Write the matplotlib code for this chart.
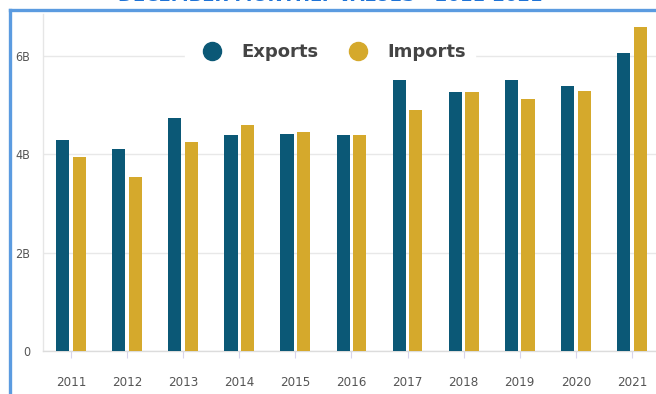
import numpy as np
import matplotlib.pyplot as plt
from matplotlib.lines import Line2D

years = ['2011', '2012', '2013', '2014', '2015', '2016',
         '2017', '2018', '2019', '2020', '2021']
exports = [4.28, 4.10, 4.73, 4.39, 4.41, 4.39, 5.50, 5.26, 5.50, 5.38, 6.05]
imports = [3.95, 3.54, 4.25, 4.60, 4.45, 4.39, 4.89, 5.26, 5.12, 5.29, 6.58]
yticks = [0, 2, 4, 6]
ytick_labels = ['0', '2B', '4B', '6B']

EXP_COLOR = '#0b5876'
IMP_COLOR = '#d5a92c'
FRAME_BLUE = '#5b9be0'

W, H = 656, 394
fig = plt.figure(figsize=(W / 100, H / 100), dpi=100)

# axes placed in pixel terms of the figure
left, right, bottom, top = 43, 656, 351, 14
ax = fig.add_axes([left / W, (H - bottom) / H, (right - left) / W, (bottom - top) / H])

x = np.arange(len(years))
bw = 0.235
off = 0.148
ax.bar(x - off, exports, width=bw, color=EXP_COLOR, zorder=3)
ax.bar(x + off, imports, width=bw, color=IMP_COLOR, zorder=3)

ax.set_xlim(-0.5, 10.43)
ax.set_ylim(0, 6.85)

ax.set_yticks(yticks)
ax.set_yticklabels(ytick_labels, fontsize=9, fontstretch='condensed', color='#555555')
ax.set_xticks(x)
ax.set_xticklabels(years, fontsize=9.5, fontstretch='condensed', color='#555555')

ax.tick_params(axis='y', length=0, pad=9)
ax.tick_params(axis='x', length=5, width=0.8, color='#d8d4ec', pad=13)

ax.grid(axis='y', color='#e8e8e8', linewidth=1, zorder=0)
for side in ['top', 'right']:
    ax.spines[side].set_visible(False)
ax.spines['left'].set_color('#e6e6e6')
ax.spines['bottom'].set_color('#dcdcdc')
ax.spines['left'].set_linewidth(1)
ax.spines['bottom'].set_linewidth(1)

# legend with round markers and bold labels
handles = [
    Line2D([], [], marker='o', linestyle='', markersize=13, color=EXP_COLOR),
    Line2D([], [], marker='o', linestyle='', markersize=13, color=IMP_COLOR),
]
leg = ax.legend(handles, ['Exports', 'Imports'], loc='center',
                bbox_to_anchor=((330 - left) / (right - left), (bottom - 52) / (bottom - top)),
                ncol=2, frameon=True, framealpha=1, edgecolor='white',
                facecolor='white', handletextpad=0.6, columnspacing=1.2,
                borderpad=0.5, prop={'weight': 'bold', 'size': 13})
for t in leg.get_texts():
    t.set_color('#444444')
leg.set_zorder(5)

# title sitting above the frame, mostly outside the canvas
fig.text(330 / W, 1 + 4 / H, 'DECEMBER MONTHLY VALUES - 2011-2021',
         ha='center', va='center', fontsize=13, fontweight='bold', color='#1f73d6')

# blue frame around the chart
fig.add_artist(Line2D([10 / W, 10 / W], [0, 1 - 9.5 / H], transform=fig.transFigure,
                      color=FRAME_BLUE, linewidth=2.4))
fig.add_artist(Line2D([10 / W, 1], [1 - 9.5 / H, 1 - 9.5 / H], transform=fig.transFigure,
                      color=FRAME_BLUE, linewidth=2.4))

fig.savefig('out.png', dpi=100, facecolor='white')
